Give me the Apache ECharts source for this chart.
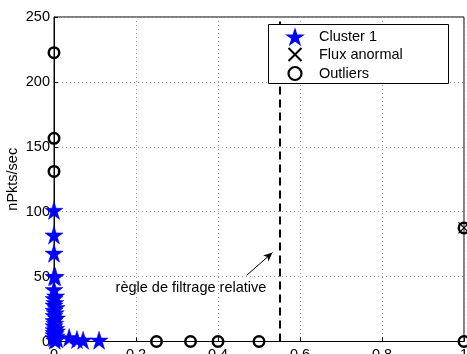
<!DOCTYPE html>
<html>
<head>
<meta charset="utf-8">
<script src="https://cdn.jsdelivr.net/npm/echarts@6/dist/echarts.min.js"></script>
<style>
  html, body { margin: 0; padding: 0; background: #fff; }
  #chart { width: 467px; height: 354px; }
</style>
</head>
<body>
<div id="chart"></div>
<script>
// Axis ticks
const xTicks = [0, 0.2, 0.4, 0.6, 0.8, 1];
const yTicks = [0, 50, 100, 150, 200, 250];

// Cluster 1 points [ratio, nPkts/sec]
const clusterX = [0, 0, 0, 0, 0.003, 0, 0.004, 0, 0.002, 0, 0.005, 0, 0.003, 0, 0.006, 0, 0.002, 0, 0.004, 0, 0.006, 0, 0.003, 0, 0.005, 0, 0.008, 0.002, 0.037, 0.056, 0.071, 0.11];
const clusterY = [101, 82, 68, 50, 50, 40, 35, 33, 30, 28, 26, 24, 22, 20, 18, 16, 14, 12, 10, 9, 8, 7, 6, 5, 4, 3, 2, 1, 3, 1.5, 1, 1];

// Abnormal flow
const anomalyX = [1];
const anomalyY = [87.5];

// Outliers
const outlierX = [0, 0, 0, 0.25, 0.333, 0.4, 0.5, 1, 1];
const outlierY = [222.5, 156.5, 131, 0, 0, 0, 0, 0, 87.5];

// Relative filtering rule
const ruleX = 0.55;
const ruleText = 'règle de filtrage relative';
const ruleTextPos = [0.334, 41.4];
const arrowFrom = [0.47, 51];
const arrowTo = [0.533, 68.5];

const zip = (xs, ys) => xs.map((x, i) => [x, ys[i]]);

const FONT = "'Liberation Sans', Arial, sans-serif";
const STAR = 'path://M50,0 L61.2,34.5 L97.6,34.5 L68.2,55.9 L79.4,90.5 L50,69.1 L20.6,90.5 L31.8,55.9 L2.4,34.5 L38.8,34.5 Z';
const CROSS = 'path://M0,0 L10,10 M10,0 L0,10';

const chart = echarts.init(document.getElementById('chart'), null, { renderer: 'canvas' });

const gridLine = { show: true, lineStyle: { color: '#9a9a9a', width: 1, type: [1, 3] } };

chart.setOption({
  animation: false,
  backgroundColor: '#fff',
  textStyle: { fontFamily: FONT },
  grid: {
    left: 54, right: 3, top: 17, bottom: 12.5,
    outerBoundsMode: 'none', containLabel: false,
    show: true, borderColor: '#000', borderWidth: 1, backgroundColor: 'transparent'
  },
  xAxis: {
    type: 'value', min: xTicks[0], max: xTicks[xTicks.length - 1], interval: 0.2,
    axisLine: { show: true, onZero: false, lineStyle: { color: '#000', width: 1 } },
    axisTick: { show: true, inside: true, length: 4, lineStyle: { color: '#000' } },
    axisLabel: { color: '#000', fontSize: 14.5, fontFamily: FONT, margin: 6,
      formatter: v => String(+v.toFixed(1)) },
    splitLine: gridLine
  },
  yAxis: {
    type: 'value', min: yTicks[0], max: yTicks[yTicks.length - 1], interval: 50,
    name: 'nPkts/sec', nameLocation: 'middle', nameGap: 34, nameMoveOverlap: false,
    nameTextStyle: { color: '#000', fontSize: 14.5, fontFamily: FONT },
    axisLine: { show: true, lineStyle: { color: '#000', width: 1 } },
    axisTick: { show: true, inside: true, length: 4, lineStyle: { color: '#000' } },
    axisLabel: { color: '#000', fontSize: 14.5, fontFamily: FONT, margin: 4 },
    splitLine: gridLine
  },
  legend: {
    orient: 'vertical', left: 286, top: 29.5, padding: 0,
    itemWidth: 30, itemHeight: 13, itemGap: 1, z: 20,
    textStyle: { color: '#000', fontSize: 14.5, fontFamily: FONT, padding: [0, 0, 0, 4] },
    data: [
      'Cluster 1',
      'Flux anormal',
      { name: 'Outliers', itemStyle: { borderWidth: 2.2 } }
    ]
  },
  graphic: [{
    type: 'rect', left: 268, top: 24, z: 15,
    shape: { width: 180, height: 59 },
    style: { fill: '#fff', stroke: '#000', lineWidth: 1 }
  }],
  series: [
    {
      name: 'Cluster 1', type: 'scatter', symbol: STAR, symbolSize: 18,
      itemStyle: { color: '#0000ff', borderColor: '#0000ff', borderWidth: 0.5, opacity: 1 },
      data: zip(clusterX, clusterY), z: 3
    },
    {
      name: 'Flux anormal', type: 'scatter', symbol: CROSS, symbolSize: 11,
      itemStyle: { color: 'none', borderColor: '#000', borderWidth: 1.2, opacity: 1 },
      data: zip(anomalyX, anomalyY), z: 4
    },
    {
      name: 'Outliers', type: 'scatter', symbol: 'circle', symbolSize: 10.5,
      itemStyle: { color: 'none', borderColor: '#000', borderWidth: 2.5, opacity: 1 },
      data: zip(outlierX, outlierY), z: 4
    },
    {
      name: 'rule', type: 'scatter', data: [], silent: true,
      markLine: {
        silent: true, animation: false,
        data: [
          [{ coord: [ruleX, yTicks[0]], symbol: 'none',
             lineStyle: { type: [8, 5], width: 2, color: '#000' } },
           { coord: [ruleX, yTicks[yTicks.length - 1]], symbol: 'none' }],
          [{ coord: arrowFrom, symbol: 'none',
             lineStyle: { type: 'solid', width: 1, color: '#000' } },
           { coord: arrowTo, symbol: 'arrow', symbolSize: [6, 9] }]
        ],
        lineStyle: { color: '#000' },
        label: { show: false }
      },
      markPoint: {
        silent: true, animation: false,
        symbol: 'circle', symbolSize: 0,
        data: [{ coord: ruleTextPos }],
        label: { show: true, position: 'inside', formatter: ruleText,
          color: '#000', fontSize: 14.5, fontFamily: FONT }
      }
    }
  ]
});
</script>
</body>
</html>
